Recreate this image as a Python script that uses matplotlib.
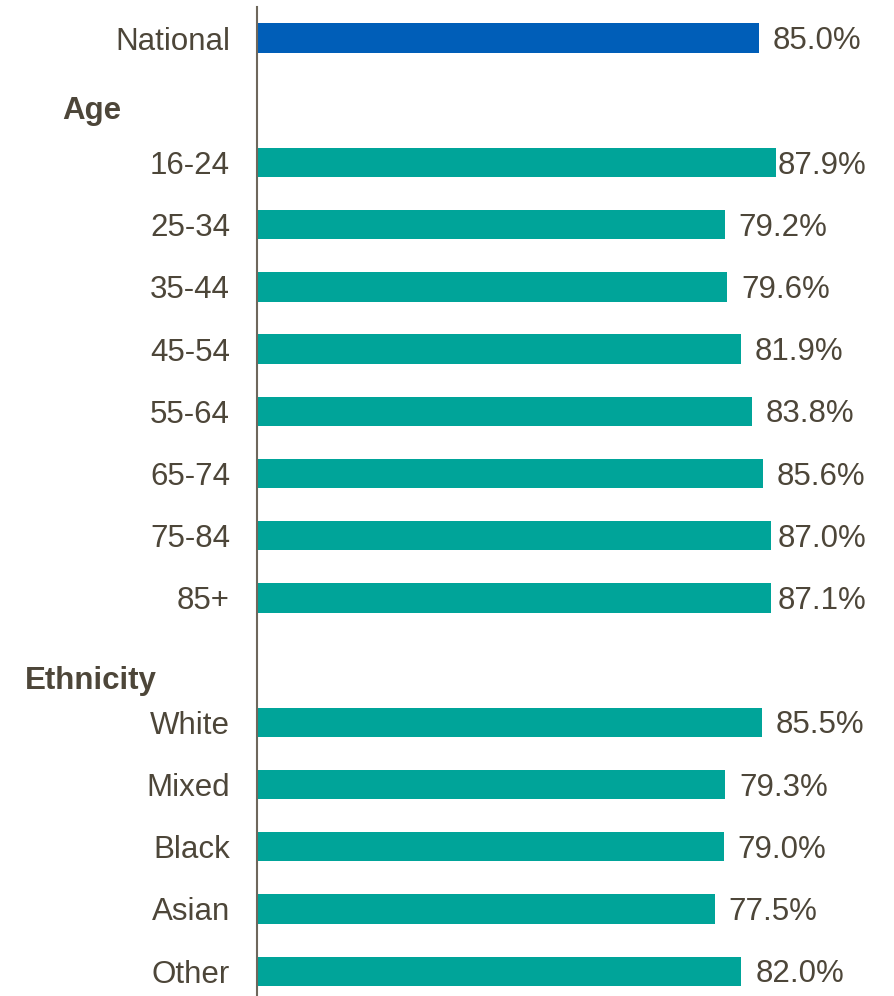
import matplotlib
matplotlib.use("Agg")
import matplotlib.pyplot as plt
import matplotlib.transforms as mtransforms

plt.rcParams['font.family'] = ['Liberation Sans', 'DejaVu Sans']

categories = ["National", "16-24", "25-34", "35-44", "45-54", "55-64", "65-74", "75-84", "85+",
              "White", "Mixed", "Black", "Asian", "Other"]
values = [85.0, 87.9, 79.2, 79.6, 81.9, 83.8, 85.6, 87.0, 87.1,
          85.5, 79.3, 79.0, 77.5, 82.0]
rows = [0, 2, 3, 4, 5, 6, 7, 8, 9, 11, 12, 13, 14, 15]
groups = ["Age", "Ethnicity"]
group_rows = [1.18, 10.34]
group_x_px = [62, 25]

TEXT = "#4D4639"
BLUE = "#005EB8"
TEAL = "#00A499"

W, H, DPI = 894, 996, 100
fig = plt.figure(figsize=(W / DPI, H / DPI), dpi=DPI)
ax_left, ax_top, ax_bottom = 257, 7, 996
ax = fig.add_axes([ax_left / W, 1 - ax_bottom / H, 1 - ax_left / W, (ax_bottom - ax_top) / H])

px_per_unit = 5.906
ax.set_xlim(0, (W - ax_left) / px_per_unit)
ax.set_ylim(15.4, -0.5)

colors = [BLUE] + [TEAL] * (len(values) - 1)
ax.barh(rows, values, height=0.47, color=colors, edgecolor="none")

for s in ["top", "right", "bottom"]:
    ax.spines[s].set_visible(False)
ax.spines["left"].set_color("#6E675C")
ax.spines["left"].set_linewidth(1.5)
ax.set_xticks([])
ax.set_yticks(rows)
ax.set_yticklabels(categories, fontsize=22.5, color=TEXT)
ax.tick_params(axis="y", length=0, pad=19.5)

fig.canvas.draw()
renderer = fig.canvas.get_renderer()
limit_px = 866
dy = -3 / DPI
for r, v in zip(rows, values):
    t = ax.text(v, r, f"{v:.1f}%", fontsize=22.5, color=TEXT, va="center", ha="left",
                transform=ax.transData + mtransforms.ScaledTranslation(14 / DPI, dy, fig.dpi_scale_trans))
    bb = t.get_window_extent(renderer)
    if bb.x1 > limit_px:
        shift = (bb.x1 - limit_px) / DPI
        t.set_transform(ax.transData + mtransforms.ScaledTranslation((14 / DPI) - shift, dy, fig.dpi_scale_trans))

trans = mtransforms.blended_transform_factory(fig.transFigure, ax.transData)
for g, gr, gx in zip(groups, group_rows, group_x_px):
    ax.text(gx / W, gr, g, transform=trans, fontsize=22.5, fontweight="bold",
            color=TEXT, va="center", ha="left", clip_on=False)

fig.savefig("out.png", dpi=DPI)
